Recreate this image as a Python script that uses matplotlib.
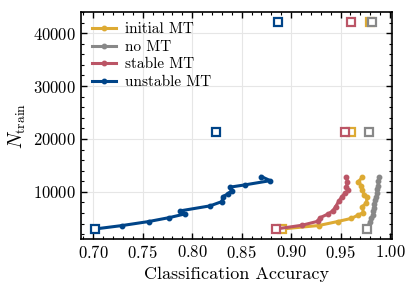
import numpy as np
import matplotlib
matplotlib.use("Agg")
import matplotlib.pyplot as plt
from matplotlib.ticker import AutoMinorLocator

plt.rcParams['font.family'] = ['cmr10', 'DejaVu Serif']
plt.rcParams['mathtext.fontset'] = 'cm'
plt.rcParams['axes.formatter.use_mathtext'] = True

# run curves (accuracy, N_train)
init_acc = [0.891, 0.928, 0.947, 0.961, 0.968, 0.973, 0.972, 0.976, 0.977, 0.974, 0.972, 0.971, 0.968, 0.972]
init_n = [3000, 3650, 4400, 5000, 5650, 6100, 7230, 7870, 9110, 9430, 10380, 11130, 11940, 12780]

nomt_acc = [0.977, 0.978, 0.980, 0.981, 0.983, 0.983, 0.984, 0.984, 0.985, 0.986, 0.987, 0.987, 0.988, 0.988, 0.989]
nomt_n = [3000, 3650, 4400, 5000, 5650, 6300, 7000, 7700, 8400, 9100, 9800, 10500, 11200, 12000, 12800]

stab_acc = [0.885, 0.911, 0.927, 0.929, 0.937, 0.942, 0.945, 0.948, 0.951, 0.954, 0.958, 0.956, 0.957, 0.956]
stab_n = [3000, 3700, 4450, 5100, 5800, 6400, 7200, 8200, 9000, 9700, 10350, 11000, 11900, 12800]

unst_acc = [0.702, 0.729, 0.756, 0.777, 0.793, 0.788, 0.818, 0.830, 0.831, 0.836, 0.840, 0.838, 0.853, 0.879, 0.870]
unst_n = [3000, 3640, 4400, 5150, 5850, 6420, 7360, 8170, 9110, 9620, 10250, 10890, 11320, 12130, 12890]

# reference points (open squares)
ref_n = [3000, 21300, 42100]
init_ref = [0.891, 0.961, 0.980]
nomt_ref = [0.977, 0.979, 0.982]
stab_ref = [0.885, 0.954, 0.961]
unst_ref = [0.702, 0.824, 0.887]

series = [
    ("initial MT", init_acc, init_n, init_ref, "#DDAA33"),
    ("no MT", nomt_acc, nomt_n, nomt_ref, "#888888"),
    ("stable MT", stab_acc, stab_n, stab_ref, "#BB5566"),
    ("unstable MT", unst_acc, unst_n, unst_ref, "#004488"),
]

fig = plt.figure(figsize=(4.16, 2.95), dpi=100)
ax = fig.add_axes([81/416, 1 - 239/295, (392-81)/416, (239-12)/295])

for label, acc, n, ref, col in series:
    ax.plot(acc, n, '-o', color=col, lw=2.2, ms=3.2, label=label)
    ax.plot(ref, ref_n, 's', color=col, mfc='white', mew=1.6, ms=6, ls='none')

ax.set_xlim(0.6876, 1.002)
ax.set_ylim(1100, 44000)
ax.set_xticks([0.70, 0.75, 0.80, 0.85, 0.90, 0.95, 1.00])
ax.set_yticks([10000, 20000, 30000, 40000])
ax.xaxis.set_minor_locator(AutoMinorLocator(5))
ax.yaxis.set_minor_locator(AutoMinorLocator(5))
ax.tick_params(which='both', direction='in', top=True, right=True, labelsize=12)
ax.tick_params(which='major', length=4, width=1)
ax.tick_params(which='minor', length=2, width=0.8)
for s in ax.spines.values():
    s.set_linewidth(1.2)
ax.grid(True, color='#e6e6e6', lw=0.8)
ax.set_axisbelow(True)

ax.set_xlabel("Classification Accuracy", fontsize=13)
ax.set_ylabel(r"$N_{\mathrm{train}}$", fontsize=14)
ax.legend(loc='upper left', frameon=False, fontsize=11, handlelength=1.6,
          borderaxespad=0.3, labelspacing=0.25, handletextpad=0.6)

fig.savefig("out.png", dpi=100)
